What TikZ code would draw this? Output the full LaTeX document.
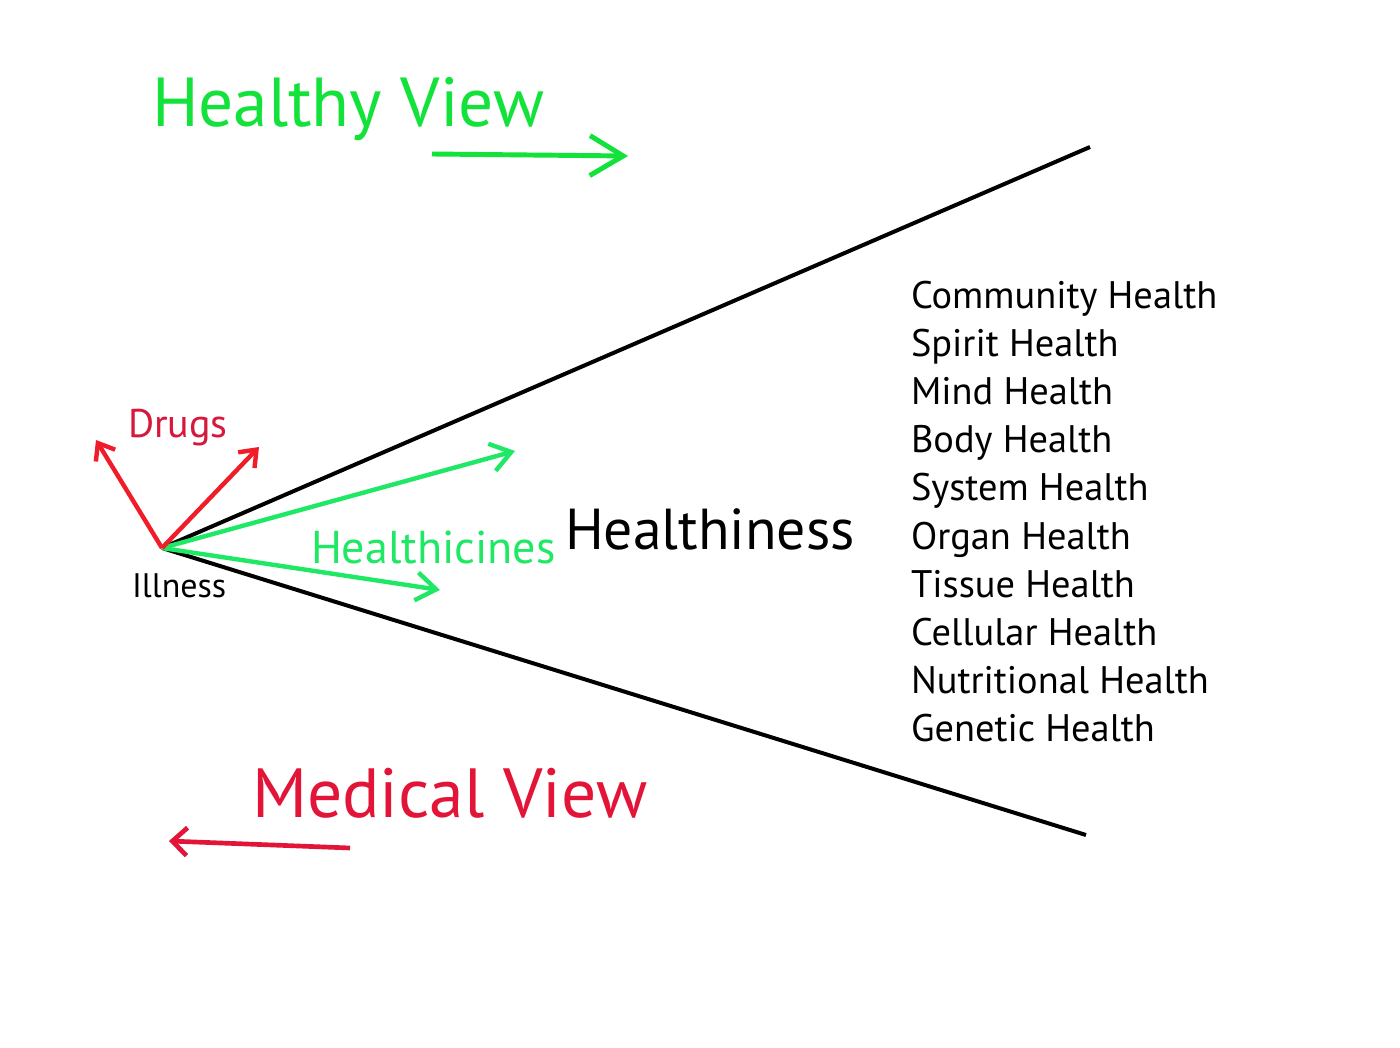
\documentclass[tikz,border=0pt]{standalone}
\usepackage{fontspec}
\setmainfont{PT Sans}
\usetikzlibrary{arrows.meta}
\definecolor{hgreen}{RGB}{18,226,58}
\definecolor{agreen}{RGB}{30,232,100}
\definecolor{mred}{RGB}{226,20,56}
\definecolor{dred}{RGB}{214,24,60}
\definecolor{ared}{RGB}{240,28,40}
\tikzset{
  txt/.style={anchor=base west, inner sep=0pt, outer sep=0pt},
  wedge/.style={line width=3pt, black},
  redarrow/.style={line width=3.3pt, ared, -{Straight Barb[length=11pt,width=17pt]}},
  greenarrow/.style={line width=3.3pt, agreen, -{Straight Barb[length=15pt,width=21pt]}},
}
\begin{document}
\begin{tikzpicture}[x=0.75pt,y=-0.75pt]
\useasboundingbox[fill=white] (0,0) rectangle (1400,1048);
\coordinate (ill) at (162,548);
\coordinate (up) at (1090,147);
\coordinate (lo) at (1086,835);
\coordinate (d1) at (96,440);
\coordinate (d2) at (259,447);
\coordinate (g1) at (515,451);
\coordinate (g2) at (440,590);
\coordinate (hv1) at (432,154);
\coordinate (hv2) at (628,156);
\coordinate (mv1) at (350,848);
\coordinate (mv2) at (169,841);

\draw[wedge] (ill) -- (up);
\draw[wedge] (ill) -- (lo);
\draw[greenarrow] (ill) -- (g1);
\draw[greenarrow] (ill) -- (g2);
\draw[redarrow] (ill) -- (d1);
\draw[redarrow] (ill) -- (d2);

\draw[line width=3.7pt, hgreen, -{Straight Barb[length=25pt,width=30pt]}] (hv1) -- (hv2);
\draw[line width=3.5pt, mred, -{Straight Barb[length=11pt,width=21pt]}] (mv1) -- (mv2);

\node[txt, hgreen, font=\fontsize{52}{58}\selectfont] (hview) at (152,127) {Healthy View};
\node[txt, mred, font=\fontsize{52.2}{58}\selectfont] (mview) at (252,817) {Medical View};
\node[txt, dred, font=\fontsize{30}{34}\selectfont] (drugs) at (128,438) {Drugs};
\node[txt, black, font=\fontsize{25.5}{30}\selectfont] (illness) at (132,597) {Illness};
\node[txt, agreen, font=\fontsize{34.5}{40}\selectfont] (hcines) at (311,563) {Healthicines};
\node[txt, black, font=\fontsize{43.3}{48}\selectfont] (hness) at (565,549) {Healthiness};

\foreach \t [count=\i from 0] in {Community Health, Spirit Health, Mind Health, Body Health, System Health, Organ Health, Tissue Health, Cellular Health, Nutritional Health, Genetic Health}{
  \node[txt, black, font=\fontsize{28.8}{34}\selectfont] (l\i) at (911,309+48*\i) {\t};
}
\end{tikzpicture}
\end{document}
